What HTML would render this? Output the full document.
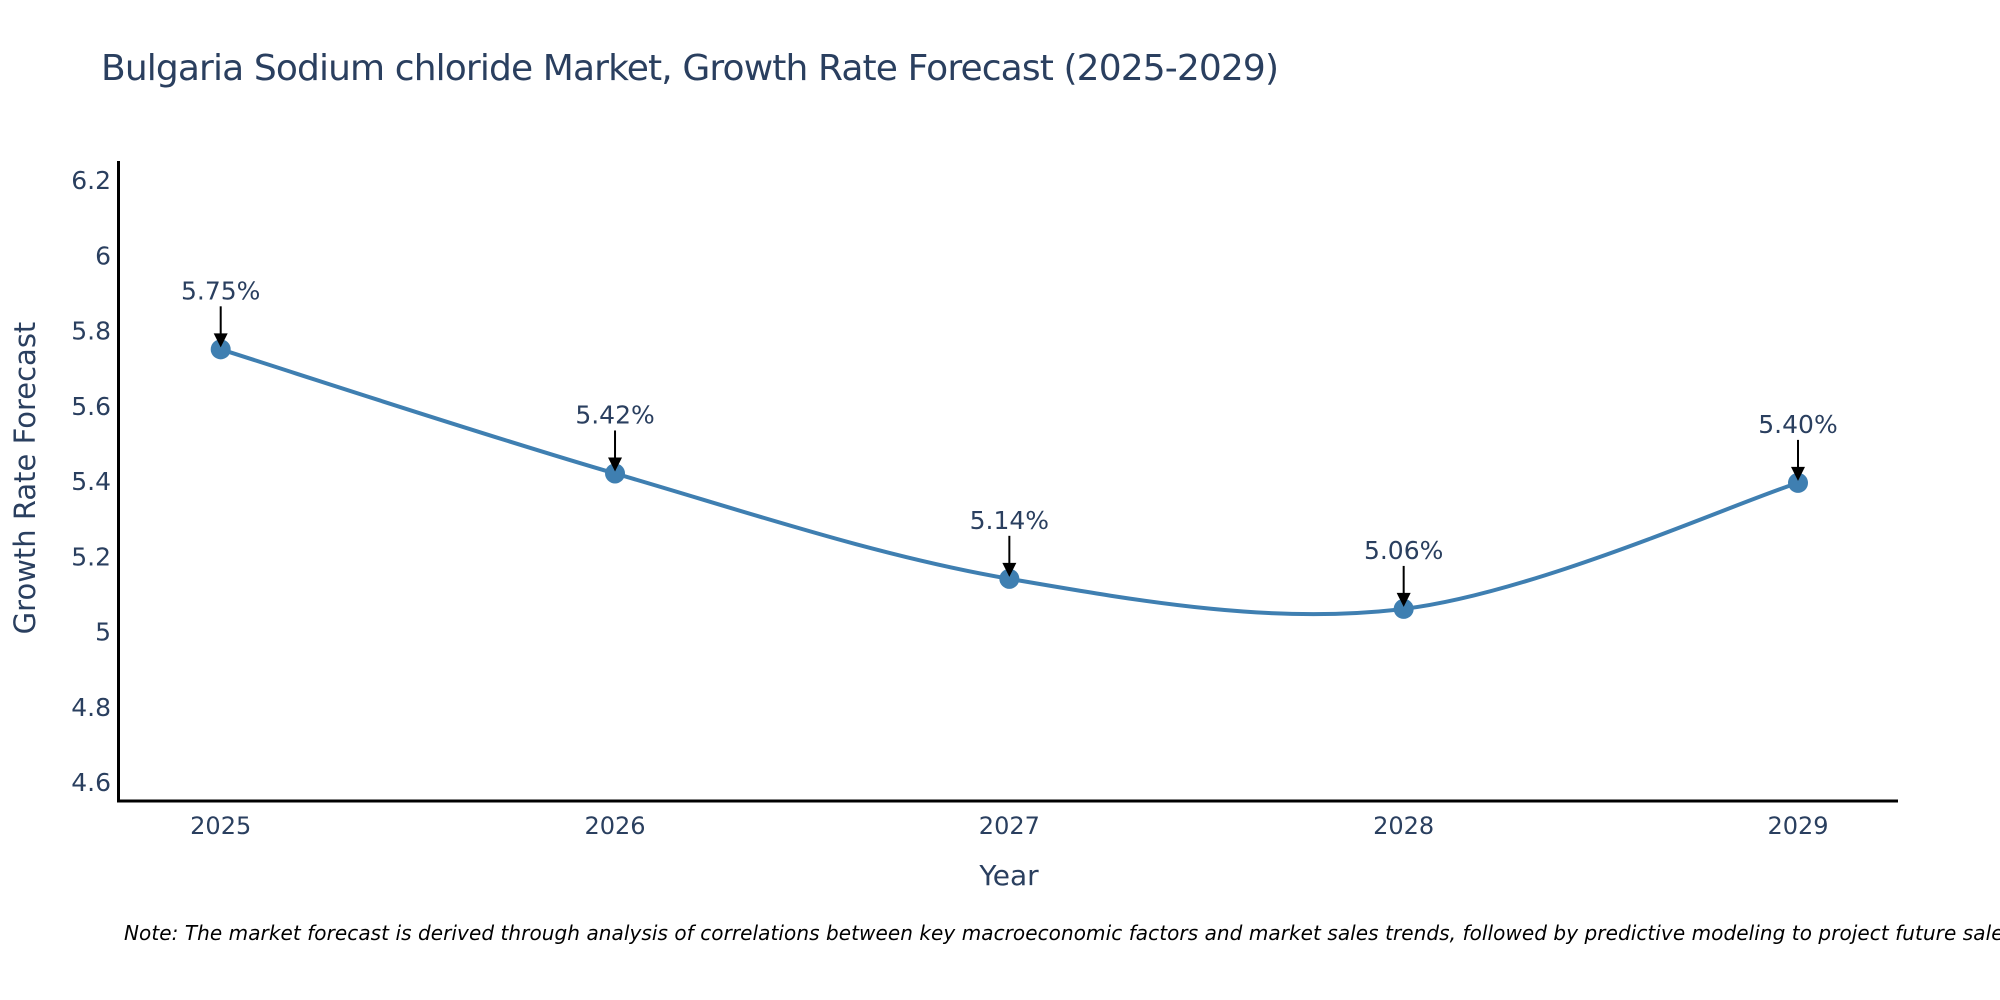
<!DOCTYPE html>
<html><head><meta charset="utf-8"><style>
html,body{margin:0;padding:0;background:#fff;width:2000px;height:1000px;overflow:hidden}
svg text{font-family:"DejaVu Sans","Liberation Sans",sans-serif;fill:#2a3f5f}
</style></head><body>
<svg id="chart" width="2000" height="1000" xmlns="http://www.w3.org/2000/svg">
<text x="101" y="80" font-size="36" textLength="1178">Bulgaria Sodium chloride Market, Growth Rate Forecast (2025-2029)</text>
<g id="yticks"></g>
<g id="xticks"></g>
<line x1="118.5" y1="161" x2="118.5" y2="802" stroke="#000" stroke-width="3"/>
<line x1="117" y1="801" x2="1898" y2="801" stroke="#000" stroke-width="3"/>
<path id="line" fill="none" stroke="#3f7fb1" stroke-width="4"/>
<g id="marks"></g>
<text x="1009" y="885" font-size="28" text-anchor="middle">Year</text>
<text transform="translate(35,478) rotate(-90)" font-size="29" text-anchor="middle">Growth Rate Forecast</text>
<text x="124" y="940" font-size="20" font-style="italic" textLength="1890" style="fill:#000">Note: The market forecast is derived through analysis of correlations between key macroeconomic factors and market sales trends, followed by predictive modeling to project future sales</text>
</svg>
<script>
const years = [2025, 2026, 2027, 2028, 2029];
const values = [5.75, 5.42, 5.14, 5.06, 5.395];
const labels = ["5.75%", "5.42%", "5.14%", "5.06%", "5.40%"];
const yTicks = [4.6, 4.8, 5, 5.2, 5.4, 5.6, 5.8, 6, 6.2];
const yTickLabels = ["4.6", "4.8", "5", "5.2", "5.4", "5.6", "5.8", "6", "6.2"];
const NS = "http://www.w3.org/2000/svg";
function xs(v){return 220.7 + (v-2025)*(1798-220.7)/4;}
function ys(v){return 180 + (6.2-v)/0.2*75.25;}
function mk(tag, attrs, parent){const e=document.createElementNS(NS,tag);for(const k in attrs)e.setAttribute(k,attrs[k]);parent.appendChild(e);return e;}
const yg=document.getElementById('yticks');
yTicks.forEach((t,i)=>{const e=mk('text',{x:111,y:ys(t)+9,'font-size':25,'text-anchor':'end'},yg);


e.textContent=yTickLabels[i];});
const xg=document.getElementById('xticks');
years.forEach(y=>{const e=mk('text',{x:xs(y),y:834,'font-size':24,'text-anchor':'middle'},xg);


e.textContent=String(y);});
const P=years.map((y,i)=>[xs(y),ys(values[i])]);
let d='M'+P[0][0]+','+P[0][1];
const s=0.5/3*2;
for(let i=0;i<P.length-1;i++){
 const p0=P[Math.max(i-1,0)],p1=P[i],p2=P[i+1],p3=P[Math.min(i+2,P.length-1)];
 const c1=[p1[0]+(p2[0]-p0[0])*s/2,p1[1]+(p2[1]-p0[1])*s/2];
 const c2=[p2[0]-(p3[0]-p1[0])*s/2,p2[1]-(p3[1]-p1[1])*s/2];
 d+=' C'+c1+' '+c2+' '+p2;
}
document.getElementById('line').setAttribute('d',d);
const mg=document.getElementById('marks');
P.forEach((p,i)=>{
 const c=mk('circle',{cx:p[0],cy:p[1],r:10,fill:'#3f7fb1'},mg);
 
 
 const l=mk('line',{x1:p[0],y1:p[1]-43,x2:p[0],y2:p[1]-14,stroke:'#000','stroke-width':2},mg);
 
 
 const a=mk('path',{d:`M${p[0]-7},${p[1]-16} L${p[0]+7},${p[1]-16} L${p[0]},${p[1]-2} Z`,fill:'#000'},mg);
 
 
 const t=mk('text',{x:p[0],y:p[1]-50,'font-size':25,'text-anchor':'middle'},mg);
 
 
 t.textContent=labels[i];
});
</script>
</body></html>
